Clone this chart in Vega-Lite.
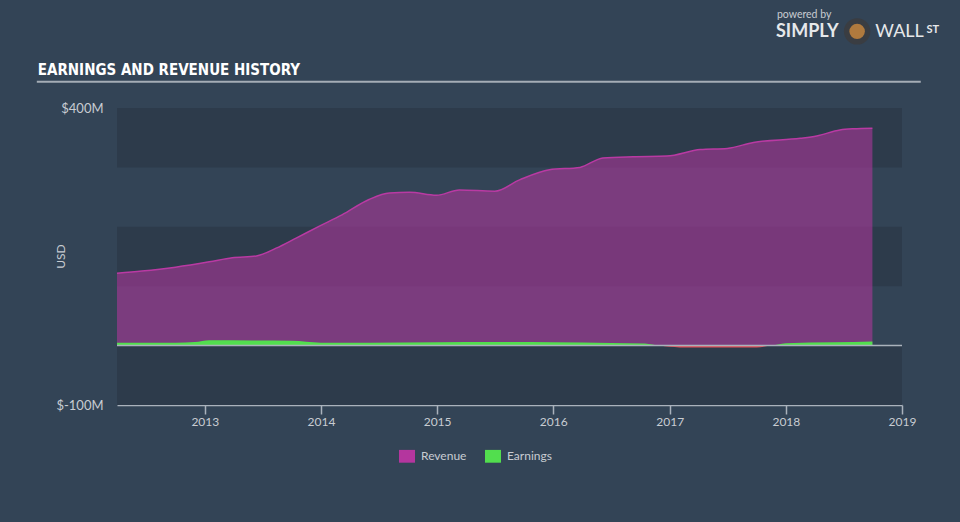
{
  "$schema": "https://vega.github.io/schema/vega-lite/v6.json",
  "autosize": {"type": "none"},
  "width": 785,
  "height": 297,
  "padding": {"left": 117, "top": 108, "right": 58, "bottom": 117},
  "background": "#334456",
  "config": {"view": {"stroke": null}, "font": "Lato"},
  "datasets": {
    "series": [
      {"date": "2012-03-31", "series": "Revenue", "value": 122},
      {"date": "2012-06-17", "series": "Revenue", "value": 125.5},
      {"date": "2012-10-01", "series": "Revenue", "value": 132},
      {"date": "2013-01-15", "series": "Revenue", "value": 141},
      {"date": "2013-03-28", "series": "Revenue", "value": 148},
      {"date": "2013-06-12", "series": "Revenue", "value": 151},
      {"date": "2013-08-13", "series": "Revenue", "value": 164},
      {"date": "2013-10-15", "series": "Revenue", "value": 181},
      {"date": "2013-12-27", "series": "Revenue", "value": 201},
      {"date": "2014-03-08", "series": "Revenue", "value": 220},
      {"date": "2014-06-01", "series": "Revenue", "value": 246},
      {"date": "2014-08-04", "series": "Revenue", "value": 257},
      {"date": "2014-10-06", "series": "Revenue", "value": 258},
      {"date": "2014-12-30", "series": "Revenue", "value": 253},
      {"date": "2015-03-12", "series": "Revenue", "value": 262},
      {"date": "2015-07-01", "series": "Revenue", "value": 260},
      {"date": "2015-09-17", "series": "Revenue", "value": 279},
      {"date": "2015-12-20", "series": "Revenue", "value": 296},
      {"date": "2016-03-25", "series": "Revenue", "value": 300},
      {"date": "2016-06-05", "series": "Revenue", "value": 316},
      {"date": "2016-09-08", "series": "Revenue", "value": 318},
      {"date": "2016-12-23", "series": "Revenue", "value": 319},
      {"date": "2017-04-07", "series": "Revenue", "value": 330},
      {"date": "2017-07-01", "series": "Revenue", "value": 332},
      {"date": "2017-09-21", "series": "Revenue", "value": 342},
      {"date": "2018-02-15", "series": "Revenue", "value": 349},
      {"date": "2018-04-08", "series": "Revenue", "value": 353},
      {"date": "2018-06-20", "series": "Revenue", "value": 363},
      {"date": "2018-08-01", "series": "Revenue", "value": 365},
      {"date": "2018-09-30", "series": "Revenue", "value": 366},
      {"date": "2012-03-31", "series": "Earnings", "value": 5},
      {"date": "2012-10-01", "series": "Earnings", "value": 5},
      {"date": "2012-12-01", "series": "Earnings", "value": 6},
      {"date": "2013-01-15", "series": "Earnings", "value": 9},
      {"date": "2013-06-01", "series": "Earnings", "value": 8.5},
      {"date": "2013-10-01", "series": "Earnings", "value": 8},
      {"date": "2014-01-01", "series": "Earnings", "value": 5},
      {"date": "2014-06-01", "series": "Earnings", "value": 5},
      {"date": "2015-01-01", "series": "Earnings", "value": 5.5},
      {"date": "2015-07-01", "series": "Earnings", "value": 6},
      {"date": "2016-01-01", "series": "Earnings", "value": 5.5},
      {"date": "2016-07-01", "series": "Earnings", "value": 4.5},
      {"date": "2016-10-15", "series": "Earnings", "value": 3.5},
      {"date": "2016-12-01", "series": "Earnings", "value": 0},
      {"date": "2017-11-12", "series": "Earnings", "value": 0},
      {"date": "2018-01-01", "series": "Earnings", "value": 4},
      {"date": "2018-06-01", "series": "Earnings", "value": 5.5},
      {"date": "2018-09-30", "series": "Earnings", "value": 7},
      {"date": "2016-12-01", "series": "Loss", "value": 0},
      {"date": "2017-02-01", "series": "Loss", "value": -3},
      {"date": "2017-06-01", "series": "Loss", "value": -3.2},
      {"date": "2017-10-01", "series": "Loss", "value": -3},
      {"date": "2017-11-12", "series": "Loss", "value": 0}
    ],
    "bands": [
      {"lo": 300, "hi": 400},
      {"lo": 100, "hi": 200},
      {"lo": -100, "hi": 0}
    ],
    "labels": [
      {"item": "title", "text": "EARNINGS AND REVENUE HISTORY", "date": "2011-07-26", "value": 455.6},
      {"item": "powered", "text": "powered by", "date": "2017-12-04", "value": 552},
      {"item": "simply", "text": "SIMPLY", "date": "2017-12-01", "value": 519.5},
      {"item": "wall", "text": "WALL", "date": "2018-10-09", "value": 519.5},
      {"item": "st", "text": "ST", "date": "2019-03-19", "value": 527}
    ],
    "underline": [
      {"date": "2011-07-23", "date2": "2019-03-01", "value": 444}
    ],
    "logo": [
      {"date": "2018-08-13", "value": 529}
    ]
  },
  "encoding": {
    "x": {
      "field": "date",
      "type": "temporal",
      "scale": {"domain": [{"year": 2012, "month": 3, "date": 31}, {"year": 2019, "month": 1, "date": 1}]},
      "axis": {
        "title": null,
        "values": [{"year": 2013, "month": 1, "date": 1}, {"year": 2014, "month": 1, "date": 1}, {"year": 2015, "month": 1, "date": 1}, {"year": 2016, "month": 1, "date": 1}, {"year": 2017, "month": 1, "date": 1}, {"year": 2018, "month": 1, "date": 1}, {"year": 2019, "month": 1, "date": 1}],
        "format": "%Y",
        "grid": false,
        "domainColor": "#aab2bc",
        "domainWidth": 1.5,
        "tickColor": "#aab2bc",
        "tickWidth": 1.5,
        "tickSize": 9,
        "labelColor": "#c8ccd2",
        "labelFontSize": 12,
        "labelPadding": 2,
        "labelFlush": false,
        "labelOverlap": false
      }
    },
    "y": {
      "field": "value",
      "type": "quantitative",
      "scale": {"domain": [-100, 400], "nice": false, "zero": false},
      "axis": {
        "title": "USD",
        "titleColor": "#c8ccd2",
        "titleFontSize": 12,
        "titleFontWeight": "normal",
        "titleX": -57,
        "titleY": 148,
        "titleAngle": -90,
        "titleAlign": "center",
        "titleBaseline": "middle",
        "values": [-100, 400],
        "labelExpr": "'$' + datum.value + 'M'",
        "grid": false,
        "domain": false,
        "ticks": false,
        "labelColor": "#c8ccd2",
        "labelFontSize": 13,
        "labelPadding": 14,
        "labelFlush": false,
        "labelOverlap": false
      }
    }
  },
  "layer": [
    {
      "data": {"name": "bands"},
      "mark": {"type": "rect", "color": "#2d3b4b"},
      "encoding": {
        "x": null,
        "y": {"field": "lo", "type": "quantitative"},
        "y2": {"field": "hi"}
      }
    },
    {
      "data": {"name": "series"},
      "transform": [{"filter": "datum.series === 'Revenue'"}],
      "mark": {"type": "area", "interpolate": "monotone", "fillOpacity": 0.56},
      "encoding": {
        "color": {
          "field": "series",
          "type": "nominal",
          "scale": {"domain": ["Revenue", "Earnings"], "range": ["#b4369e", "#52de4e"]},
          "legend": {
            "title": null,
            "orient": "none",
            "direction": "horizontal",
            "legendX": 282,
            "legendY": 340,
            "symbolType": "M-1,-0.8H1V0.8H-1Z",
            "symbolSize": 256,
            "symbolOpacity": 1,
            "symbolStrokeWidth": 0,
            "labelColor": "#c8ccd2",
            "labelFontSize": 12,
            "labelOffset": 6,
            "columnPadding": 18
          }
        }
      }
    },
    {
      "data": {"name": "series"},
      "transform": [{"filter": "datum.series === 'Revenue'"}],
      "mark": {"type": "line", "interpolate": "monotone", "color": "#b93aa3", "strokeWidth": 1.5},
      "encoding": {}
    },
    {
      "data": {"name": "series"},
      "transform": [{"filter": "datum.series === 'Earnings'"}],
      "mark": {"type": "area", "interpolate": "monotone", "fillOpacity": 1},
      "encoding": {"color": {"field": "series", "type": "nominal"}}
    },
    {
      "data": {"name": "series"},
      "transform": [{"filter": "datum.series === 'Loss'"}],
      "mark": {"type": "area", "interpolate": "monotone", "color": "#e34f5a"},
      "encoding": {}
    },
    {
      "data": {"name": "bands"},
      "transform": [{"filter": "datum.hi === 0"}],
      "mark": {"type": "rule", "color": "#aab2bc", "strokeWidth": 1.5},
      "encoding": {"x": null, "y": {"field": "hi", "type": "quantitative"}}
    },
    {
      "data": {"name": "underline"},
      "mark": {"type": "rule", "color": "#a5adb6", "strokeWidth": 2},
      "encoding": {
        "x2": {"field": "date2"}
      }
    },
    {
      "data": {"name": "labels"},
      "transform": [{"filter": "datum.item === 'title'"}],
      "mark": {"type": "text", "font": "DejaVu Sans Condensed, Liberation Sans Narrow, Roboto Condensed, Roboto, sans-serif", "fontWeight": "bold", "fontSize": 15, "color": "#ffffff", "align": "left", "baseline": "alphabetic"},
      "encoding": {"text": {"field": "text"}}
    },
    {
      "data": {"name": "labels"},
      "transform": [{"filter": "datum.item === 'powered'"}],
      "mark": {"type": "text", "fontSize": 10.5, "color": "#c8ccd2", "align": "left", "baseline": "alphabetic"},
      "encoding": {"text": {"field": "text"}}
    },
    {
      "data": {"name": "labels"},
      "transform": [{"filter": "datum.item === 'simply'"}],
      "mark": {"type": "text", "fontSize": 18, "fontWeight": "bold", "color": "#e6e8ea", "align": "left", "baseline": "alphabetic"},
      "encoding": {"text": {"field": "text"}}
    },
    {
      "data": {"name": "labels"},
      "transform": [{"filter": "datum.item === 'wall'"}],
      "mark": {"type": "text", "fontSize": 18, "fontWeight": "normal", "color": "#e6e8ea", "align": "left", "baseline": "alphabetic"},
      "encoding": {"text": {"field": "text"}}
    },
    {
      "data": {"name": "labels"},
      "transform": [{"filter": "datum.item === 'st'"}],
      "mark": {"type": "text", "fontSize": 11, "fontWeight": "bold", "color": "#e6e8ea", "align": "left", "baseline": "alphabetic"},
      "encoding": {"text": {"field": "text"}}
    },
    {
      "data": {"name": "logo"},
      "mark": {"type": "point", "filled": true, "size": 700, "color": "#3a3d42", "opacity": 1},
      "encoding": {}
    },
    {
      "data": {"name": "logo"},
      "mark": {"type": "point", "filled": true, "size": 240, "color": "#b07a3e", "opacity": 1, "dy": 5},
      "encoding": {}
    }
  ]
}
